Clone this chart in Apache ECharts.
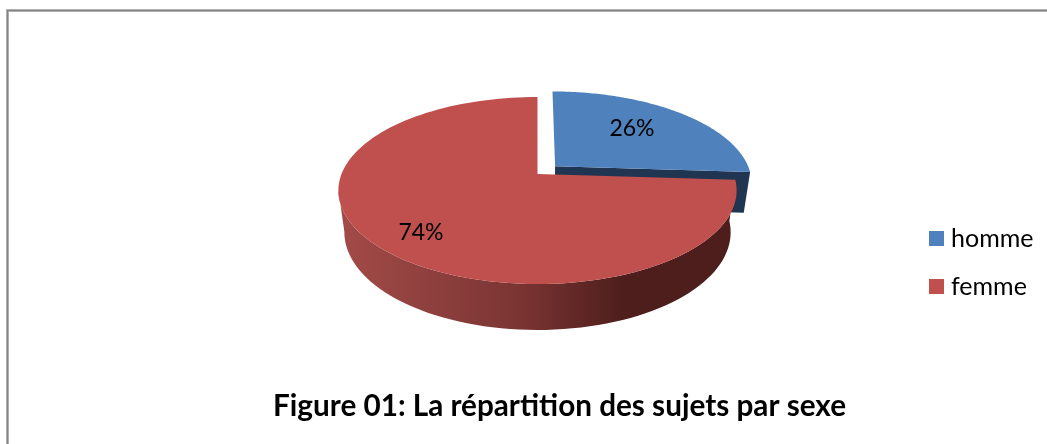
<!DOCTYPE html>
<html>
<head>
<meta charset="utf-8">
<title>Figure 01</title>
<script src="https://cdn.jsdelivr.net/npm/echarts@6/dist/echarts.min.js"></script>
<style>
  html, body { margin: 0; padding: 0; background: #fff; }
  #chart { width: 1047px; height: 444px; }
</style>
</head>
<body>
<div id="chart"></div>
<script>
const categories = ['homme', 'femme']
const values = [26, 74]
const percentLabels = ['26%', '74%']
const sliceColors = ['#4f81bd', '#c0504d']

const total = values[0] + values[1]

// perspective disc: apex of the pie on screen, horizontal and vertical radius
const cx = 537.5, cy = 174, A = 196, B = 90.6, P = 0.1765
const explode = 0.125
const TAU = Math.PI * 2

function project(u, v) {
  const w = 1 + P * v
  return [cx + A * u / w, cy - B * v / w]
}

// bottom rim of the extrusion
function lower(pt) {
  return [cx + (pt[0] - cx) * 0.97, pt[1] + 41 + (pt[1] - 174) * 0.045]
}

function rim(a0, a1, ox, oy) {
  const pts = []
  const n = 120
  for (let i = 0; i <= n; i++) {
    const a = a0 + (a1 - a0) * i / n
    pts.push(project(ox + Math.sin(a), oy + Math.cos(a)))
  }
  return pts
}

function leftmost(pts) {
  let k = 0
  pts.forEach((p, i) => { if (p[0] < pts[k][0]) k = i })
  return k
}

function sliceItem(index) {
  const a0 = index === 0 ? 0 : values[0] / total * TAU
  const a1 = index === 0 ? values[0] / total * TAU : TAU
  const mid = (a0 + a1) / 2
  const ox = index === 0 ? explode * Math.sin(mid) : 0
  const oy = index === 0 ? explode * Math.cos(mid) : 0
  const apex = project(ox, oy)
  const edge = rim(a0, a1, ox, oy)
  const children = []

  if (index === 0) {
    // cut face of the pulled out slice, seen below its top
    const end = edge[edge.length - 1]
    children.push({
      type: 'polygon',
      shape: { points: [apex, end, lower(end), lower(apex)] },
      style: { fill: '#1f3552' }
    })
  } else {
    // front wall only, from the start of the slice round to the left extreme
    const bottom = edge.map(lower)
    const topPart = edge.slice(0, leftmost(edge) + 1)
    const bottomPart = bottom.slice(0, leftmost(bottom) + 1).reverse()
    children.push({
      type: 'polygon',
      shape: { points: topPart.concat(bottomPart) },
      style: {
        fill: new echarts.graphic.LinearGradient(0, 0, 1, 0, [
          { offset: 0, color: '#a34b48' },
          { offset: 0.45, color: '#7b3533' },
          { offset: 0.72, color: '#4d1e1c' },
          { offset: 1, color: '#4d1e1c' }
        ])
      }
    })
  }

  children.push({
    type: 'polygon',
    shape: { points: [apex].concat(edge) },
    style: { fill: sliceColors[index] }
  })

  const labelPos = index === 0 ? [632, 129] : [421, 233]
  children.push({
    type: 'text',
    x: labelPos[0],
    y: labelPos[1],
    style: {
      text: percentLabels[index],
      fill: '#000',
      font: '23px Lato',
      align: 'center',
      verticalAlign: 'middle'
    }
  })
  return { type: 'group', children: children }
}

const chart = echarts.init(document.getElementById('chart'))

chart.setOption({
  animation: false,
  title: {
    text: 'Figure 01: La répartition des sujets par sexe',
    left: 273,
    top: 391,
    padding: 0,
    textStyle: { fontFamily: 'Lato', fontWeight: 'bold', fontSize: 29.7, color: '#000' }
  },
  legend: {
    orient: 'vertical',
    left: 929,
    top: 226,
    padding: 0,
    itemWidth: 15,
    itemHeight: 15,
    itemGap: 23,
    icon: 'rect',
    data: categories,
    textStyle: { fontFamily: 'Lato', fontSize: 25, color: '#000', padding: [0, 0, 0, 2] }
  },
  graphic: [{
    type: 'polyline',
    shape: { points: [[7.5, 444], [7.5, 10.5], [1047, 10.5]] },
    style: { stroke: '#bdbdbd', lineWidth: 3, fill: null }
  }, {
    type: 'polyline',
    shape: { points: [[7.5, 444], [7.5, 10.5], [1047, 10.5]] },
    style: { stroke: '#858585', lineWidth: 1.5, fill: null }
  }],
  series: categories.map((name, i) => ({
    name: name,
    type: 'custom',
    coordinateSystem: 'none',
    silent: true,
    z: i + 2,
    itemStyle: { color: sliceColors[i] },
    data: [values[i]],
    renderItem: () => sliceItem(i)
  }))
})
</script>
</body>
</html>
